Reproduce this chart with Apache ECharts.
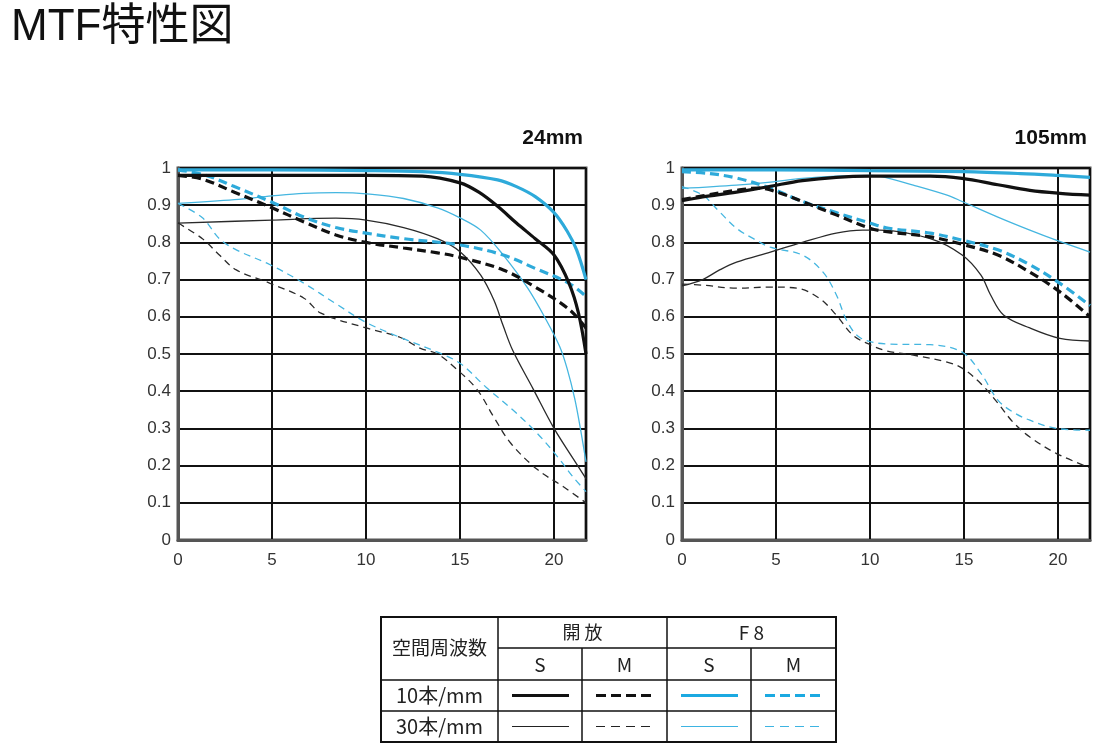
<!DOCTYPE html>
<html>
<head>
<meta charset="utf-8">
<script src="https://cdn.jsdelivr.net/npm/echarts@6/dist/echarts.min.js"></script>
<style>
html,body{margin:0;padding:0;background:#fff;}
#chart{width:1103px;height:747px;}
</style>
</head>
<body>
<div id="chart"></div>
<script>
// ---- tick labels / categories ----
const xTicks = [0, 5, 10, 15, 20];
const yTicks = [0, 0.1, 0.2, 0.3, 0.4, 0.5, 0.6, 0.7, 0.8, 0.9, 1];
const panelTitles = ['24mm', '105mm'];
const legendCols = ['開 放', 'F 8'];
const legendSub = ['S', 'M', 'S', 'M'];
const legendRows = ['10本/mm', '30本/mm'];

// ---- 24mm : [image height (mm), MTF] ----
const w_open_S10 = [[0,0.98],[5,0.98],[10,0.98],[13,0.978],[15,0.96],[16,0.935],[17,0.897],[18,0.852],[19,0.81],[20,0.766],[20.8,0.69],[21.3,0.61],[21.7,0.5]];
const w_open_M10 = [[0,0.98],[1.3,0.97],[3,0.935],[5,0.893],[6.7,0.855],[8.4,0.82],[10,0.80],[12,0.785],[13.8,0.772],[15,0.76],[17.3,0.726],[19,0.68],[20.8,0.62],[21.7,0.57]];
const w_f8_S10 = [[0,0.995],[5,0.995],[10,0.993],[13,0.99],[15,0.983],[17,0.968],[18,0.95],[19,0.923],[20,0.88],[20.7,0.83],[21.2,0.78],[21.7,0.70]];
const w_f8_M10 = [[0,0.995],[1.5,0.98],[3,0.95],[5,0.908],[6.7,0.868],[8.4,0.84],[10,0.825],[12,0.81],[15,0.793],[17.3,0.766],[19,0.73],[20.8,0.69],[21.7,0.655]];
const w_open_S30 = [[0,0.852],[5,0.86],[8.4,0.865],[10,0.86],[12,0.84],[13.8,0.81],[15,0.775],[16.1,0.712],[16.8,0.645],[17.3,0.575],[17.8,0.51],[18.9,0.405],[20,0.30],[21,0.22],[21.7,0.165]];
const w_open_M30 = [[0,0.852],[1.3,0.81],[2.2,0.766],[3.1,0.726],[4.9,0.69],[6.7,0.65],[7.6,0.61],[10,0.57],[11.8,0.545],[12.9,0.515],[13.8,0.5],[14.8,0.46],[15.9,0.405],[16.8,0.33],[17.7,0.26],[19.1,0.19],[20.5,0.143],[21.7,0.10]];
const w_f8_S30 = [[0,0.905],[3,0.915],[5,0.925],[6.7,0.932],[8.4,0.934],[10.2,0.93],[12,0.918],[13.8,0.893],[15,0.866],[16.1,0.833],[17.3,0.766],[18.6,0.677],[19.6,0.59],[20.3,0.52],[20.7,0.46],[21.1,0.38],[21.4,0.30],[21.7,0.21]];
const w_f8_M30 = [[0,0.905],[1.3,0.866],[2.2,0.81],[3.1,0.78],[4.9,0.74],[6.7,0.69],[8.4,0.635],[10,0.585],[11.8,0.545],[13.8,0.505],[15,0.475],[16.4,0.41],[17.8,0.35],[19.1,0.287],[20.2,0.223],[21,0.17],[21.7,0.13]];

// ---- 105mm ----
const t_open_S10 = [[0,0.912],[1.1,0.922],[2.9,0.935],[4.7,0.951],[6.4,0.966],[8.2,0.975],[10,0.978],[13.2,0.978],[14.9,0.972],[16.8,0.955],[18.5,0.94],[20.1,0.932],[21.7,0.927]];
const t_open_M10 = [[0,0.915],[1.1,0.925],[2.9,0.94],[4.1,0.946],[5.2,0.933],[6.4,0.91],[8.2,0.874],[10,0.838],[11,0.828],[13.2,0.815],[14.9,0.795],[16.8,0.766],[18.5,0.72],[20.1,0.667],[21.7,0.60]];
const t_f8_S10 = [[0,0.995],[5,0.995],[10,0.993],[15,0.99],[18,0.985],[20,0.98],[21.7,0.975]];
const t_f8_M10 = [[0,0.99],[1.5,0.985],[2.9,0.973],[4.7,0.946],[6.4,0.91],[8.2,0.88],[10,0.852],[11,0.838],[13.2,0.825],[14.9,0.806],[16.8,0.78],[18.5,0.74],[20.1,0.69],[21.7,0.63]];
const t_open_S30 = [[0,0.683],[1.1,0.70],[2,0.726],[2.9,0.747],[4.7,0.774],[6.4,0.80],[8.2,0.825],[9.6,0.833],[10.5,0.833],[13.2,0.81],[14.9,0.766],[15.9,0.712],[16.4,0.66],[17.1,0.605],[18.5,0.57],[20.1,0.542],[21.7,0.535]];
const t_open_M30 = [[0,0.688],[1.1,0.685],[2.9,0.677],[4.7,0.68],[6.1,0.677],[7.3,0.65],[8.2,0.605],[9.1,0.55],[10,0.525],[10.9,0.508],[12.3,0.497],[14.1,0.478],[14.9,0.462],[15.9,0.42],[16.8,0.368],[17.6,0.317],[18.5,0.277],[19.9,0.233],[21.7,0.194]];
const t_f8_S30 = [[0,0.945],[2.9,0.954],[4.7,0.962],[6.4,0.972],[8.2,0.978],[10,0.98],[10.5,0.978],[12.3,0.954],[14.1,0.927],[14.9,0.91],[16.8,0.868],[18.5,0.833],[19.9,0.806],[21.7,0.774]];
const t_f8_M30 = [[0,0.95],[1.1,0.927],[2,0.882],[2.9,0.838],[3.8,0.81],[4.7,0.787],[6.4,0.766],[7.5,0.72],[8.2,0.66],[8.8,0.586],[9.5,0.543],[10.9,0.527],[13.2,0.525],[14.9,0.505],[15.9,0.448],[16.8,0.376],[17.6,0.344],[18.5,0.322],[19.9,0.30],[21.7,0.295]];

const X_MAX = 21.7;
const BLACK = '#111111', BLACK_THIN = '#2a2a2a';
const BLUE = '#2eaada', BLUE_THIN = '#45b6e0';
const FONT = '"Liberation Sans", "Noto Sans CJK JP", sans-serif';

const styles = {
  open_S10: {color: BLACK, width: 3.2, type: 'solid'},
  open_M10: {color: BLACK, width: 3.2, type: [9, 5]},
  f8_S10: {color: BLUE, width: 3.2, type: 'solid'},
  f8_M10: {color: BLUE, width: 3.2, type: [9, 5]},
  open_S30: {color: BLACK_THIN, width: 1.3, type: 'solid'},
  open_M30: {color: BLACK_THIN, width: 1.3, type: [7, 5]},
  f8_S30: {color: BLUE_THIN, width: 1.3, type: 'solid'},
  f8_M30: {color: BLUE_THIN, width: 1.3, type: [7, 5]}
};

const panels = [
  {open_S30: w_open_S30, open_M30: w_open_M30, f8_S30: w_f8_S30, f8_M30: w_f8_M30,
   open_S10: w_open_S10, open_M10: w_open_M10, f8_S10: w_f8_S10, f8_M10: w_f8_M10},
  {open_S30: t_open_S30, open_M30: t_open_M30, f8_S30: t_f8_S30, f8_M30: t_f8_M30,
   open_S10: t_open_S10, open_M10: t_open_M10, f8_S10: t_f8_S10, f8_M10: t_f8_M10}
];
const order = ['open_S30','open_M30','f8_S30','f8_M30','f8_S10','f8_M10','open_M10','open_S10'];

const gridLefts = [178, 682];
const grids = gridLefts.map(l => ({left: l, top: 168, width: 408, height: 372,
  show: true, borderColor: '#555', borderWidth: 3, containLabel: false}));

const xAxes = gridLefts.map((l, i) => ({
  type: 'value', gridIndex: i, min: 0, max: X_MAX, interval: 5,
  axisLine: {show: true, lineStyle: {color: '#555', width: 3}},
  axisTick: {show: false},
  splitLine: {show: true, lineStyle: {color: '#111', width: 2}},
  axisLabel: {color: '#333', fontSize: 17, fontFamily: FONT, margin: 12,
    showMaxLabel: false,
    formatter: v => xTicks.includes(Math.round(v * 1000) / 1000) ? String(Math.round(v)) : ''}
}));
const yAxes = gridLefts.map((l, i) => ({
  type: 'value', gridIndex: i, min: 0, max: 1, interval: 0.1,
  axisLine: {show: true, lineStyle: {color: '#555', width: 3}},
  axisTick: {show: false},
  splitLine: {show: true, lineStyle: {color: '#111', width: 2}},
  axisLabel: {color: '#333', fontSize: 17, fontFamily: FONT, margin: 7,
    formatter: v => {
      const r = Math.round(v * 10) / 10;
      const t = yTicks.find(k => Math.abs(k - r) < 1e-6);
      return t === undefined ? '' : String(t);
    }}
}));

const series = [];
panels.forEach((p, i) => {
  order.forEach(k => {
    series.push({
      type: 'line', xAxisIndex: i, yAxisIndex: i, data: p[k],
      smooth: 0.35, showSymbol: false, symbol: 'none', silent: true,
      lineStyle: {color: styles[k].color, width: styles[k].width, type: styles[k].type},
      clip: true, animation: false
    });
  });
});

// ---- legend table (graphic) ----
const colX = [381, 498, 582, 667, 751, 836];
const rowY = [617, 648, 680, 711, 742];
const g = [];
const line = (x1, y1, x2, y2, w, c, dash) => g.push({type: 'line', silent: true,
  shape: {x1, y1, x2, y2}, style: {stroke: c || '#111', lineWidth: w, lineDash: dash || null}});
const text = (x, y, s, fs) => g.push({type: 'text', silent: true, x, y,
  style: {text: s, fill: '#222', font: `${fs || 16}px "Noto Sans CJK JP", sans-serif`, align: 'center', verticalAlign: 'middle'}});

g.push({type: 'rect', silent: true, shape: {x: colX[0], y: rowY[0], width: colX[5] - colX[0], height: rowY[4] - rowY[0]},
  style: {fill: 'none', stroke: '#111', lineWidth: 2}});
line(colX[1], rowY[0], colX[1], rowY[4], 1.5);
line(colX[3], rowY[0], colX[3], rowY[4], 1.5);
line(colX[2], rowY[1], colX[2], rowY[4], 1.5);
line(colX[4], rowY[1], colX[4], rowY[4], 1.5);
line(colX[1], rowY[1], colX[5], rowY[1], 1.5);
line(colX[0], rowY[2], colX[5], rowY[2], 1.5);
line(colX[0], rowY[3], colX[5], rowY[3], 1.5);

text((colX[0] + colX[1]) / 2, rowY[1], '空間周波数', 19);
text((colX[1] + colX[3]) / 2, (rowY[0] + rowY[1]) / 2, legendCols[0], 18);
text((colX[3] + colX[5]) / 2, (rowY[0] + rowY[1]) / 2, legendCols[1], 19);
legendSub.forEach((s, i) => text((colX[i + 1] + colX[i + 2]) / 2, (rowY[1] + rowY[2]) / 2 + 1, s, 19));
legendRows.forEach((s, i) => text((colX[0] + colX[1]) / 2, (rowY[i + 2] + rowY[i + 3]) / 2, s, 20));

const legKeys = [['open_S10','open_M10','f8_S10','f8_M10'], ['open_S30','open_M30','f8_S30','f8_M30']];
legKeys.forEach((row, r) => {
  const y = (rowY[r + 2] + rowY[r + 3]) / 2;
  row.forEach((k, c) => {
    const x1 = colX[c + 1] + 14, x2 = colX[c + 2] - 13;
    const st = styles[k];
    const dash = Array.isArray(st.type) ? (r === 0 ? [10, 5] : [9, 6]) : null;
    line(x1, y, x2, y, r === 0 ? 3 : 1.2, r === 0 ? (st.color === BLUE ? '#1ba9e1' : '#111') : (st.color === BLUE_THIN ? '#3db4e2' : '#222'), dash);
  });
});

const chart = echarts.init(document.getElementById('chart'), null, {renderer: 'canvas'});
chart.setOption({
  backgroundColor: '#fff',
  animation: false,
  title: [
    {text: 'MTF特性図', left: 6, top: 1, textStyle: {fontSize: 44, fontWeight: 'normal', color: '#111', fontFamily: FONT}},
    {text: panelTitles[0], right: 1103 - 588, top: 123, textStyle: {fontSize: 21, fontWeight: 'bold', color: '#111', fontFamily: FONT}},
    {text: panelTitles[1], right: 1103 - 1092, top: 123, textStyle: {fontSize: 21, fontWeight: 'bold', color: '#111', fontFamily: FONT}}
  ],
  grid: grids,
  xAxis: xAxes,
  yAxis: yAxes,
  series: series,
  graphic: g
});
</script>
</body>
</html>
